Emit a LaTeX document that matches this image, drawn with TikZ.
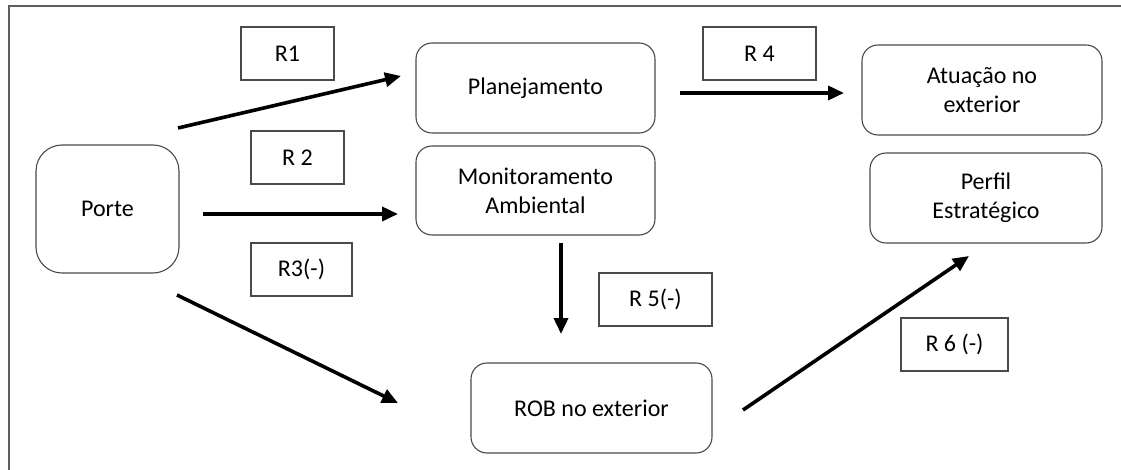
\documentclass[tikz,border=0pt]{standalone}
\usepackage{fontspec}
\setmainfont{Carlito}
\usetikzlibrary{arrows.meta}
\definecolor{boxgray}{HTML}{4A4A4A}
\definecolor{framegray}{HTML}{5E5E5E}
\begin{document}
\begin{tikzpicture}[x=1pt,y=-1pt,
  every node/.style={font=\fontsize{24}{29}\selectfont, inner sep=0pt, align=center},
  rbox/.style={draw=boxgray, line width=1.1pt, rounded corners=16pt},
  lbox/.style={draw=boxgray, line width=1.1pt},
  arr/.style={line width=3.6pt, -{Triangle[length=16pt,width=14pt]}}
]
\useasboundingbox (0,0) rectangle (1121,470);
% frame
\draw[framegray, line width=2pt] (1121,6) -- (9,6) -- (9,470);
% main nodes
\node[rbox, rounded corners=26pt, minimum width=143pt, minimum height=128pt] (porte) at (107.5,209) {Porte};
\node[rbox, minimum width=239pt, minimum height=90pt] (plan) at (535.5,88) {Planejamento};
\node[rbox, minimum width=239pt, minimum height=89pt] (mon) at (535.5,190.5) {Monitoramento\\Ambiental};
\node[rbox, minimum width=240pt, minimum height=90pt] (atu) at (982,90) {Atuação no\\exterior};
\node[rbox, minimum width=232pt, minimum height=90pt] (perf) at (986,198) {Perfil\\Estratégico};
\node[rbox, minimum width=241pt, minimum height=90pt] (rob) at (591.5,408) {ROB no exterior};
% label boxes
\node[lbox, minimum width=93pt, minimum height=53pt] (r1) at (287.5,53.5) {R1};
\node[lbox, minimum width=93pt, minimum height=53pt] (r2) at (297.5,157.5) {R 2};
\node[lbox, minimum width=101pt, minimum height=53pt] (r3) at (301.5,269.5) {R3(-)};
\node[lbox, minimum width=113pt, minimum height=53pt] (r4) at (759.5,53.5) {R 4};
\node[lbox, minimum width=113pt, minimum height=53pt] (r5) at (655.5,299.5) {R 5(-)};
\node[lbox, minimum width=107pt, minimum height=53pt] (r6) at (954.5,344.5) {R 6 (-)};
% arrow end coordinates
\coordinate (a1s) at (178,128); \coordinate (a1e) at (401,76);
\coordinate (a2s) at (203,214); \coordinate (a2e) at (398,214);
\coordinate (a3s) at (177,295); \coordinate (a3e) at (398,403);
\coordinate (a4s) at (680,93);  \coordinate (a4e) at (844,93);
\coordinate (a5s) at (561,243); \coordinate (a5e) at (561,334);
\coordinate (a6s) at (743,410); \coordinate (a6e) at (969,256);
\draw[arr] (a1s) -- (a1e);
\draw[arr] (a2s) -- (a2e);
\draw[arr] (a3s) -- (a3e);
\draw[arr] (a4s) -- (a4e);
\draw[arr] (a5s) -- (a5e);
\draw[arr] (a6s) -- (a6e);
\end{tikzpicture}
\end{document}
